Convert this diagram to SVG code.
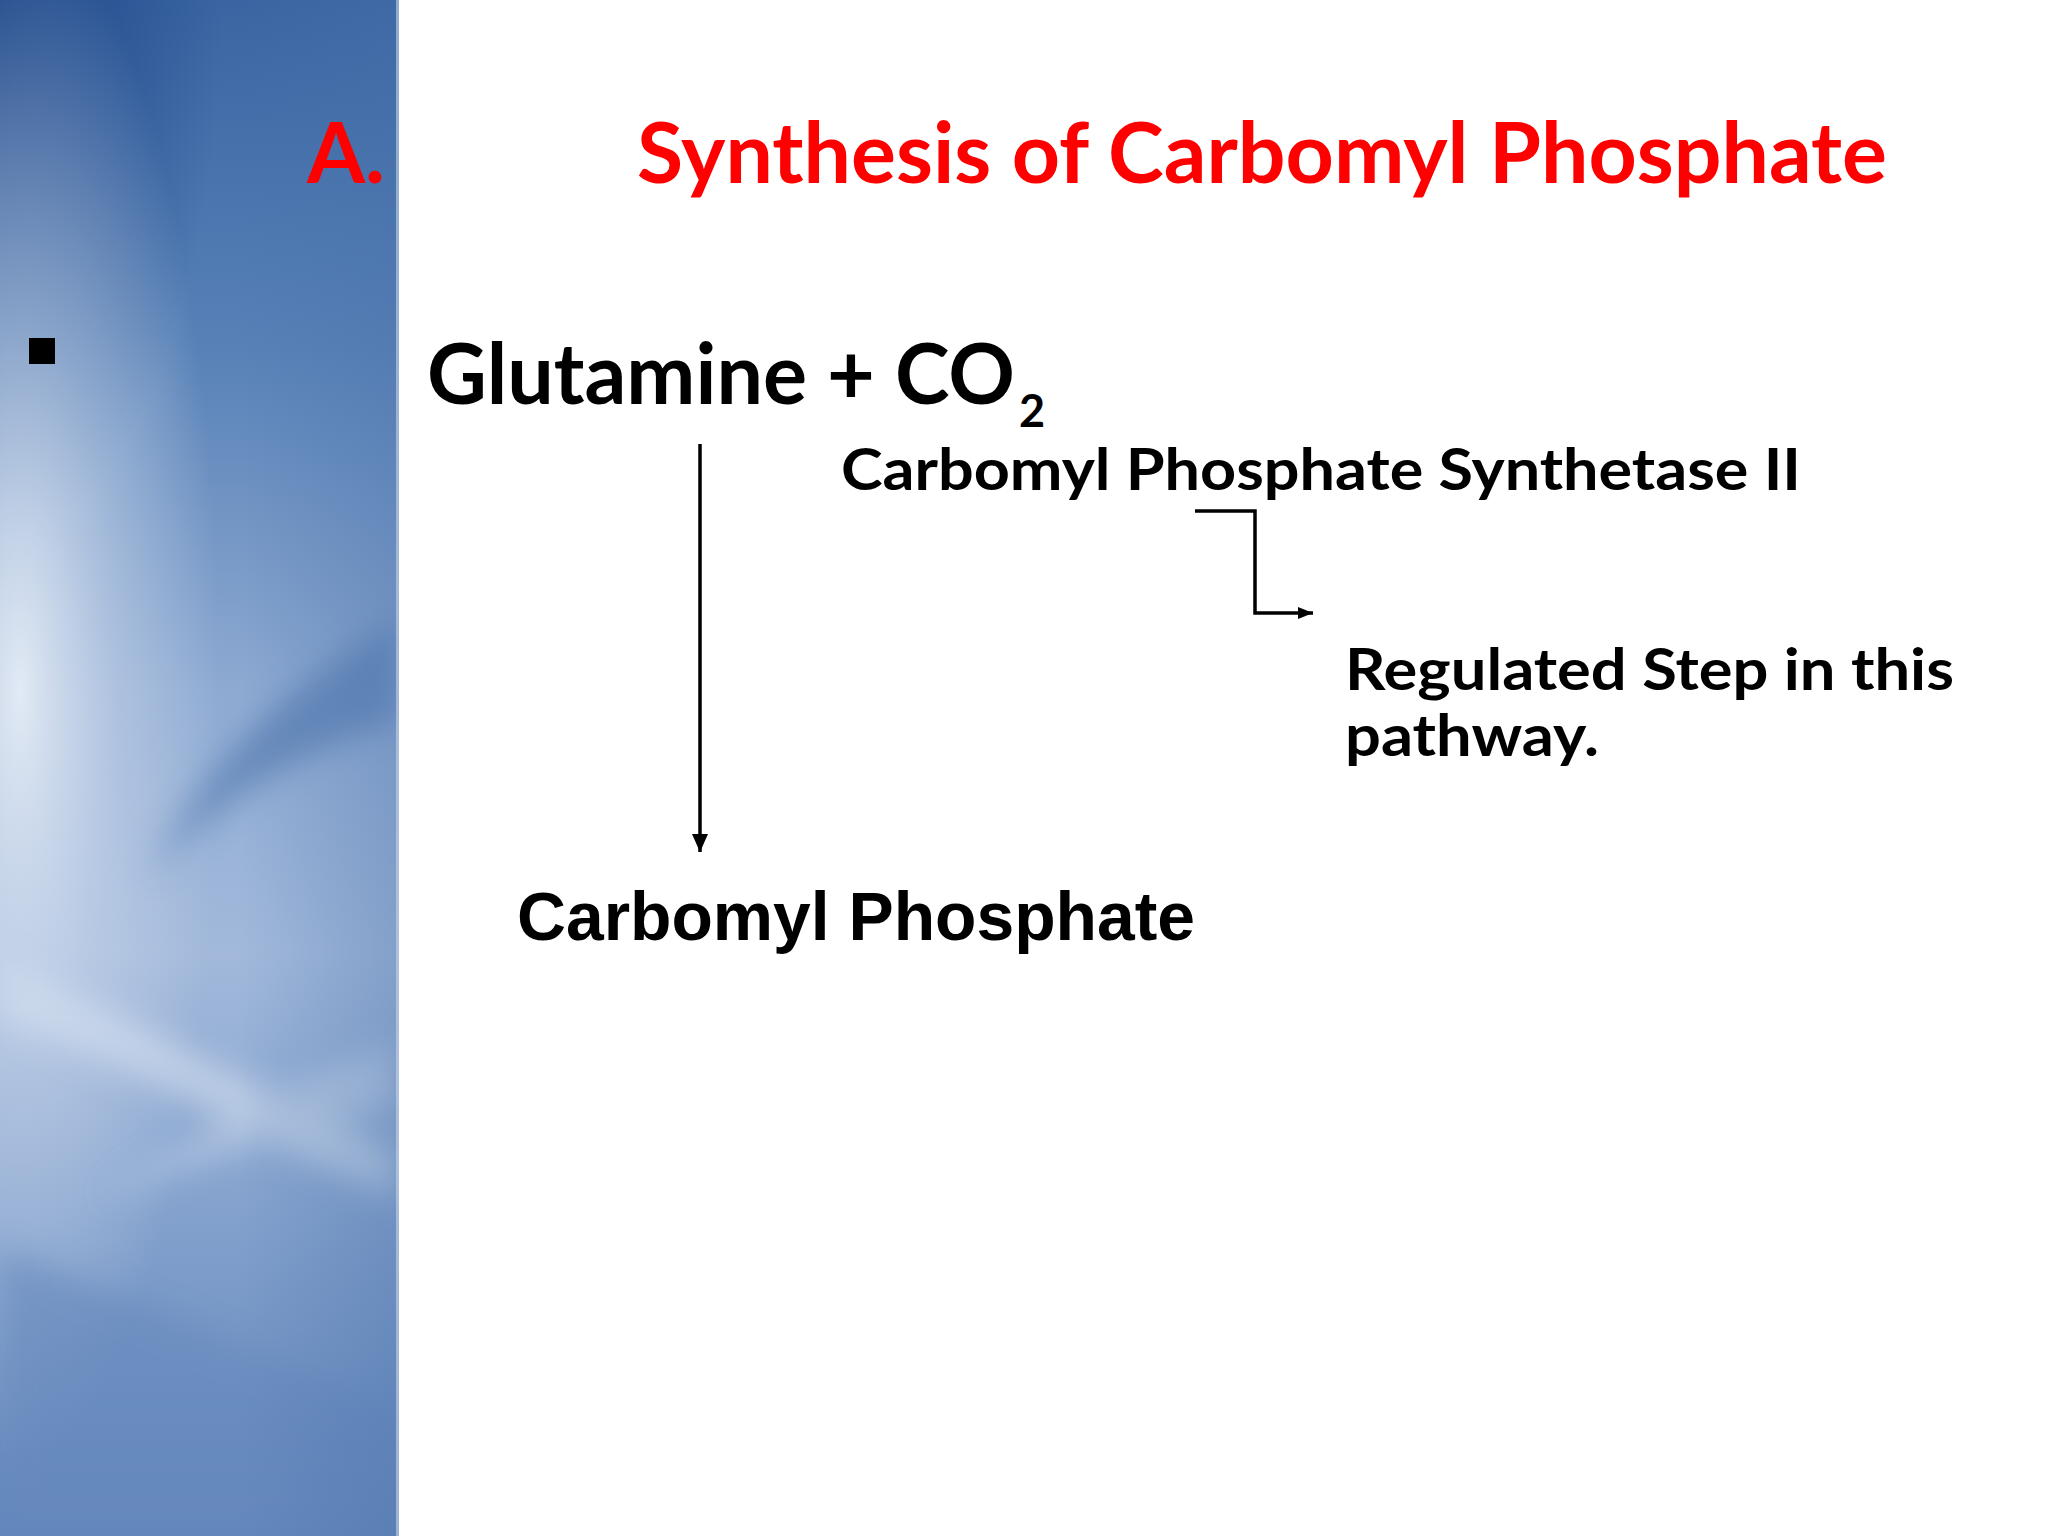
<svg xmlns="http://www.w3.org/2000/svg" width="2048" height="1536" viewBox="0 0 2048 1536">
<style>
.cal{font-family:Lato,"Open Sans","Liberation Sans",sans-serif;font-weight:bold}
.ari{font-family:"Liberation Sans",Arial,sans-serif;font-weight:bold}
.red{fill:#ff0000}
.blk{fill:#000000}
.conn{fill:none;stroke:#000000;stroke-width:3.5}
</style>
<defs>
<clipPath id="pc"><rect x="0" y="0" width="399" height="1536"/></clipPath>
<linearGradient id="bgv" x1="0" y1="0" x2="0" y2="1">
<stop offset="0" stop-color="#3a65a2"/>
<stop offset="0.22" stop-color="#5680b6"/>
<stop offset="0.45" stop-color="#8eaad2"/>
<stop offset="0.62" stop-color="#a2b9db"/>
<stop offset="0.82" stop-color="#7e9dca"/>
<stop offset="1" stop-color="#6286bb"/>
</linearGradient>
<radialGradient id="dark" cx="0" cy="0" r="0.35" gradientTransform="translate(0,0) scale(1.6,1)">
<stop offset="0" stop-color="#1c4587" stop-opacity="0.95"/>
<stop offset="1" stop-color="#1c4587" stop-opacity="0"/>
</radialGradient>
<radialGradient id="glow" cx="0.05" cy="0.45" r="0.5">
<stop offset="0" stop-color="#e6edf6" stop-opacity="0.95"/>
<stop offset="0.5" stop-color="#cbd8eb" stop-opacity="0.5"/>
<stop offset="1" stop-color="#cbd8eb" stop-opacity="0"/>
</radialGradient>
<linearGradient id="edge" x1="0" y1="0" x2="1" y2="0">
<stop offset="0" stop-color="#4a72aa" stop-opacity="0"/>
<stop offset="0.6" stop-color="#4a72aa" stop-opacity="0"/>
<stop offset="1" stop-color="#4a72aa" stop-opacity="0.35"/>
</linearGradient>
<filter id="blur" x="-20%" y="-20%" width="140%" height="140%"><feGaussianBlur stdDeviation="16"/></filter>
<marker id="ah" markerUnits="userSpaceOnUse" markerWidth="20" markerHeight="20" viewBox="0 0 20 20" refX="18" refY="10" orient="auto">
<path d="M0,2 L18,10 L0,18 Z" fill="#000000"/>
</marker>
<marker id="ah2" markerUnits="userSpaceOnUse" markerWidth="16" markerHeight="16" viewBox="0 0 16 16" refX="15" refY="8" orient="auto">
<path d="M0,2 L15,8 L0,14 Z" fill="#000000"/>
</marker>
</defs>
<rect x="0" y="0" width="2048" height="1536" fill="#ffffff"/>
<g id="panel" clip-path="url(#pc)">
<rect x="0" y="0" width="399" height="1536" fill="url(#bgv)"/>
<rect x="0" y="0" width="399" height="1536" fill="url(#dark)"/>
<rect x="0" y="0" width="399" height="1536" fill="url(#glow)"/>
<g filter="url(#blur)" opacity="0.6">
<path d="M399,620 C300,680 200,760 150,880 C210,800 300,750 399,720 Z" fill="#4a72aa"/>
<path d="M0,960 C120,1010 260,1090 399,1150 L399,1200 C260,1140 120,1060 0,1020 Z" fill="#d6e1f0"/>
<path d="M0,1250 C140,1300 280,1370 399,1410 L399,1536 L0,1536 Z" fill="#6689bd"/>
<path d="M399,1040 C300,1080 200,1130 100,1200 C220,1150 320,1120 399,1110 Z" fill="#c8d6ea"/>
</g>
<rect x="0" y="0" width="399" height="1536" fill="url(#edge)"/>
<rect x="396" y="0" width="3" height="1536" fill="#c9d6e8" opacity="0.6"/>
</g>
<g id="bullet"><rect x="29" y="338" width="26" height="26" fill="#000000"/></g>
<g id="title-letter"><text class="cal red" x="307" y="183" font-size="84" textLength="78" lengthAdjust="spacingAndGlyphs">A.</text></g>
<g id="title"><text class="cal red" x="637" y="183" font-size="84" textLength="1250" lengthAdjust="spacingAndGlyphs">Synthesis of Carbomyl Phosphate</text></g>
<g id="reactants">
<text class="cal blk" x="427" y="404" font-size="85"><tspan textLength="588" lengthAdjust="spacingAndGlyphs">Glutamine + CO</tspan><tspan x="1019" dy="23" font-size="45">2</tspan></text>
</g>
<g id="enzyme"><text class="cal blk" x="841" y="490" font-size="58" textLength="960" lengthAdjust="spacingAndGlyphs">Carbomyl Phosphate Synthetase II</text></g>
<g id="note">
<text class="cal blk" x="1345" y="690" font-size="58" textLength="609" lengthAdjust="spacingAndGlyphs">Regulated Step in this</text>
<text class="cal blk" x="1345" y="756" font-size="58" textLength="254" lengthAdjust="spacingAndGlyphs">pathway.</text>
</g>
<g id="product"><text class="ari blk" x="517" y="940" font-size="68" textLength="678" lengthAdjust="spacingAndGlyphs">Carbomyl Phosphate</text></g>
<g id="connectors">
<path class="conn" d="M700,444 V852" marker-end="url(#ah)"/>
<path class="conn" d="M1195,511 H1255 V613 H1313" marker-end="url(#ah2)"/>
</g>
</svg>
